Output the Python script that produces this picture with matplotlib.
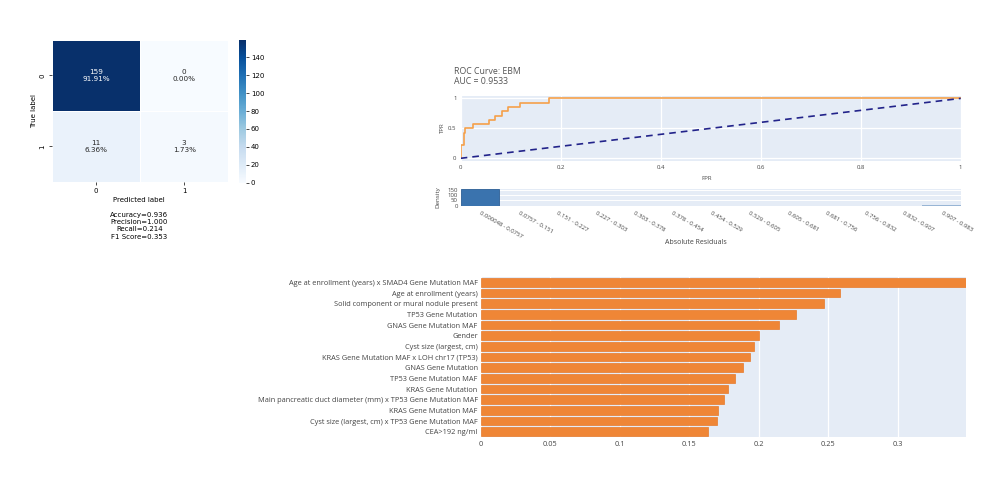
import matplotlib
matplotlib.use('Agg')
import matplotlib.pyplot as plt
import numpy as np
from matplotlib.cm import ScalarMappable
from matplotlib.colors import Normalize

# ---------------- data ----------------
cm_values = [[159, 0], [11, 3]]
cm_ticks = ["0", "1"]
metric_names = ["Accuracy", "Precision", "Recall", "F1 Score"]
metric_values = [0.936, 1.000, 0.214, 0.353]

roc_fpr = [0.0, 0.0, 0.0063, 0.0063, 0.0094, 0.0094, 0.0252, 0.0252, 0.0566, 0.0566,
           0.0692, 0.0692, 0.0818, 0.0818, 0.0943, 0.0943, 0.1195, 0.1195, 0.1761, 0.1761, 1.0]
roc_tpr = [0.0, 0.2143, 0.2143, 0.4286, 0.4286, 0.5, 0.5, 0.5714, 0.5714, 0.6429,
           0.6429, 0.7143, 0.7143, 0.7857, 0.7857, 0.8571, 0.8571, 0.9286, 0.9286, 1.0, 1.0]
roc_title = "ROC Curve: EBM"
auc_value = 0.9533

resid_bins = ["0.000048 - 0.0757", "0.0757 - 0.151", "0.151 - 0.227", "0.227 - 0.303",
              "0.303 - 0.378", "0.378 - 0.454", "0.454 - 0.529", "0.529 - 0.605",
              "0.605 - 0.681", "0.681 - 0.756", "0.756 - 0.832", "0.832 - 0.907",
              "0.907 - 0.983"]
resid_counts = [152, 1, 1, 0, 0, 0, 0, 1, 0, 0, 0, 0, 3]

features = ["Age at enrollment (years) x SMAD4 Gene Mutation MAF",
            "Age at enrollment (years)",
            "Solid component or mural nodule present",
            "TP53 Gene Mutation",
            "GNAS Gene Mutation MAF",
            "Gender",
            "Cyst size (largest, cm)",
            "KRAS Gene Mutation MAF x LOH chr17 (TP53)",
            "GNAS Gene Mutation",
            "TP53 Gene Mutation MAF",
            "KRAS Gene Mutation",
            "Main pancreatic duct diameter (mm) x TP53 Gene Mutation MAF",
            "KRAS Gene Mutation MAF",
            "Cyst size (largest, cm) x TP53 Gene Mutation MAF",
            "CEA>192 ng/ml"]
importances = [0.349, 0.2585, 0.2472, 0.2266, 0.2148, 0.2002, 0.1969, 0.1940,
               0.1889, 0.1832, 0.1779, 0.1751, 0.1705, 0.1700, 0.1638]

# ---------------- layout helpers ----------------
W, H = 1000, 501
fig = plt.figure(figsize=(W / 100, H / 100), dpi=100)
plt.rcParams['font.family'] = ['Open Sans', 'DejaVu Sans']


def rect(x0, y0, x1, y1):
    return [x0 / W, 1 - y1 / H, (x1 - x0) / W, (y1 - y0) / H]


def ftext(x, y, s, **kw):
    fig.text(x / W, 1 - y / H, s, **kw)


PLOT_BG = '#e5ecf6'
TXT = '#444444'

# ---------------- confusion matrix ----------------
cm = np.array(cm_values)
total = cm.sum()
ax_cm = fig.add_axes(rect(51.7, 40, 228.3, 181.7))
ax_cm.pcolormesh(np.arange(3), np.arange(3), cm, cmap='Blues', vmin=0, vmax=cm.max(),
                 edgecolors='white', linewidth=0.6)
ax_cm.set_xlim(0, 2)
ax_cm.set_ylim(2, 0)
for i in range(2):
    for j in range(2):
        v = cm[i, j]
        ax_cm.text(j + 0.5, i + 0.5, f"{v}\n{v / total:.2%}", ha='center', va='center',
                   fontsize=5.2, color='white' if v > cm.max() / 2 else '#262626',
                   family='DejaVu Sans', linespacing=1.1)
ax_cm.set_xticks([0.5, 1.5])
ax_cm.set_xticklabels(cm_ticks, fontsize=5, family='DejaVu Sans')
ax_cm.set_yticks([0.5, 1.5])
ax_cm.set_yticklabels(cm_ticks, fontsize=5, rotation=90, va='center', family='DejaVu Sans')
ax_cm.tick_params(length=2.5, width=0.5, pad=2)
for s in ax_cm.spines.values():
    s.set_visible(False)
ftext(139.3, 200, "Predicted label", fontsize=5, ha='center', va='center', family='DejaVu Sans')
ftext(34, 111, "True label", fontsize=5, ha='center', va='center', rotation=90, family='DejaVu Sans')
for k, (n, v) in enumerate(zip(metric_names, metric_values)):
    ftext(139.3, 215 + 7.2 * k, f"{n}={v:.3f}", fontsize=5, ha='center', va='center',
          family='DejaVu Sans')

cax = fig.add_axes(rect(239.3, 40.2, 246, 182.7))
cb = fig.colorbar(ScalarMappable(norm=Normalize(0, cm.max()), cmap='Blues'), cax=cax)
cb.outline.set_visible(False)
cb.set_ticks(np.arange(0, 141, 20))
cax.tick_params(labelsize=5, length=2, width=0.5, pad=1.5)
for t in cax.get_yticklabels():
    t.set_family('DejaVu Sans')

# ---------------- ROC curve ----------------
ax_roc = fig.add_axes(rect(460.7, 96, 960.7, 160.7))
ax_roc.set_facecolor(PLOT_BG)
ax_roc.plot(roc_fpr, roc_tpr, color='#f5a04a', lw=1.2, zorder=3)
ax_roc.plot([0, 1], [0, 1], color='#22238a', lw=1.2, ls=(0, (4, 3)), zorder=3)
ax_roc.set_xlim(0, 1)
ax_roc.set_ylim(-0.04, 1.04)
ax_roc.set_xticks([0, 0.2, 0.4, 0.6, 0.8, 1])
ax_roc.set_xticklabels(["0", "0.2", "0.4", "0.6", "0.8", "1"])
ax_roc.set_yticks([0, 0.5, 1])
ax_roc.set_yticklabels(["0", "0.5", "1"])
ax_roc.tick_params(labelsize=4.3, colors=TXT, length=0, pad=3)
ax_roc.grid(True, color='white', lw=0.9)
ax_roc.set_axisbelow(True)
for s in ax_roc.spines.values():
    s.set_visible(False)
ftext(454, 72, roc_title, fontsize=6.3, color='#555555', ha='left', va='center')
ftext(454, 82, f"AUC = {auc_value:.4f}", fontsize=6.3, color='#555555', ha='left', va='center')
ftext(707, 178, "FPR", fontsize=4.3, color=TXT, ha='center', va='center')
ftext(442, 128, "TPR", fontsize=4.3, color=TXT, ha='center', va='center', rotation=90)

# ---------------- residual histogram ----------------
ax_h = fig.add_axes(rect(460.7, 188.5, 960.7, 205.7))
ax_h.set_facecolor(PLOT_BG)
xs = np.arange(len(resid_bins))
hb = ax_h.bar(xs, resid_counts, width=1.0, color='#3a73ae', edgecolor='none', lw=0, zorder=3)
for rc, patch in zip(resid_counts, hb.patches):
    if rc > 0:
        patch.set_alpha(1.0 if rc > 10 else 0.45)
    if rc > 10:
        patch.set_edgecolor('#2d5f96')
        patch.set_linewidth(0.6)
ax_h.set_xlim(-0.5, len(resid_bins) - 0.5)
ax_h.set_ylim(0, 160)
ax_h.set_yticks([0, 50, 100, 150])
ax_h.set_xticks(xs)
ax_h.set_xticklabels(resid_bins, rotation=-30, ha='left', va='center', rotation_mode='anchor')
ax_h.tick_params(axis='x', labelsize=4.3, colors=TXT, length=0, pad=5)
ax_h.tick_params(axis='y', labelsize=4.3, colors=TXT, length=0, pad=2)
ax_h.grid(True, axis='y', color='white', lw=0.7)
ax_h.set_axisbelow(True)
for s in ax_h.spines.values():
    s.set_visible(False)
ftext(696, 242, "Absolute Residuals", fontsize=5, color=TXT, ha='center', va='center')
ftext(438, 197, "Density", fontsize=4.5, color=TXT, ha='center', va='center', rotation=90)

# ---------------- feature importance ----------------
ax_b = fig.add_axes(rect(480.5, 277, 965.7, 437))
ax_b.set_facecolor(PLOT_BG)
ys = np.arange(len(features))
ax_b.barh(ys, importances, height=0.8, color='#ef8636', edgecolor='#e67a2a', lw=0.5, zorder=3)
ax_b.set_ylim(len(features) - 0.5, -0.5)
ax_b.set_xlim(0, max(importances))
ax_b.set_yticks(ys)
ax_b.set_yticklabels(features)
ax_b.set_xticks([0, 0.05, 0.1, 0.15, 0.2, 0.25, 0.3])
ax_b.set_xticklabels(["0", "0.05", "0.1", "0.15", "0.2", "0.25", "0.3"])
ax_b.tick_params(axis='y', labelsize=5.3, colors=TXT, length=0, pad=2)
ax_b.tick_params(axis='x', labelsize=5.3, colors=TXT, length=0, pad=3)
ax_b.grid(True, axis='x', color='white', lw=0.9)
ax_b.set_axisbelow(True)
for s in ax_b.spines.values():
    s.set_visible(False)

fig.savefig('out.png', dpi=100, facecolor='white')
